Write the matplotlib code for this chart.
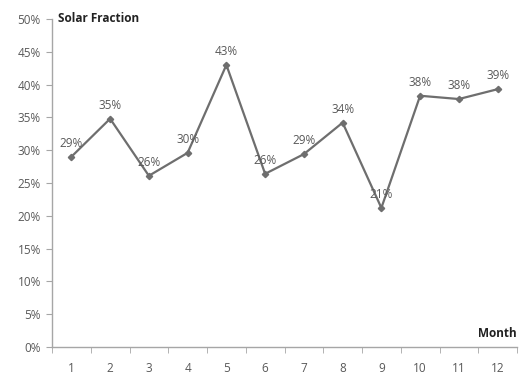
import matplotlib
matplotlib.use("Agg")
import matplotlib.pyplot as plt
from matplotlib.ticker import FuncFormatter, FixedLocator

months = ["1", "2", "3", "4", "5", "6", "7", "8", "9", "10", "11", "12"]
solar_fraction = [0.290, 0.348, 0.261, 0.296, 0.430, 0.264, 0.294, 0.342, 0.212, 0.383, 0.378, 0.393]
labels = ["29%", "35%", "26%", "30%", "43%", "26%", "29%", "34%", "21%", "38%", "38%", "39%"]

plt.rcParams['font.family'] = ['Open Sans', 'DejaVu Sans']
txt = "#595959"
axc = "#a6a6a6"
fs = 8.5

fig = plt.figure(figsize=(5.29, 3.75), dpi=100)
ax = fig.add_axes([52/529, (375-347)/375, 465/529, 328/375])

x = list(range(1, len(months) + 1))
ax.plot(x, solar_fraction, color="#6e6e6e", lw=1.6, marker="D", ms=3.2,
        markerfacecolor="#6e6e6e", markeredgecolor="#6e6e6e")
for xi, v, lab in zip(x, solar_fraction, labels):
    ax.annotate(lab, (xi, v), xytext=(0, 5), textcoords="offset points",
                ha="center", va="bottom", fontsize=fs, color=txt)

ax.set_xlim(0.5, 12.5)
ax.set_ylim(0, 0.5)
ax.set_yticks([i * 0.05 for i in range(11)])
ax.yaxis.set_major_formatter(FuncFormatter(lambda v, p: f"{v*100:.0f}%"))
ax.set_xticks(x)
ax.set_xticklabels(months)
ax.xaxis.set_minor_locator(FixedLocator([i + 0.5 for i in range(0, 13)]))
ax.tick_params(axis="x", which="major", length=0, pad=11, labelsize=fs, labelcolor=txt)
ax.tick_params(axis="x", which="minor", length=4, color=axc, direction="out")
ax.tick_params(axis="y", length=4, color=axc, direction="out", labelsize=fs, labelcolor=txt, pad=4)

for s in ["top", "right"]:
    ax.spines[s].set_visible(False)
for s in ["left", "bottom"]:
    ax.spines[s].set_color(axc)
    ax.spines[s].set_linewidth(1.0)

ax.text(0.012, 1.0, "Solar Fraction", transform=ax.transAxes, ha="left", va="center",
        fontsize=fs, fontweight="bold", color="#222222")
ax.text(1.0, 0.04, "Month", transform=ax.transAxes, ha="right", va="center",
        fontsize=fs, fontweight="bold", color="#222222")

fig.savefig("out.png", dpi=100, facecolor="white")
